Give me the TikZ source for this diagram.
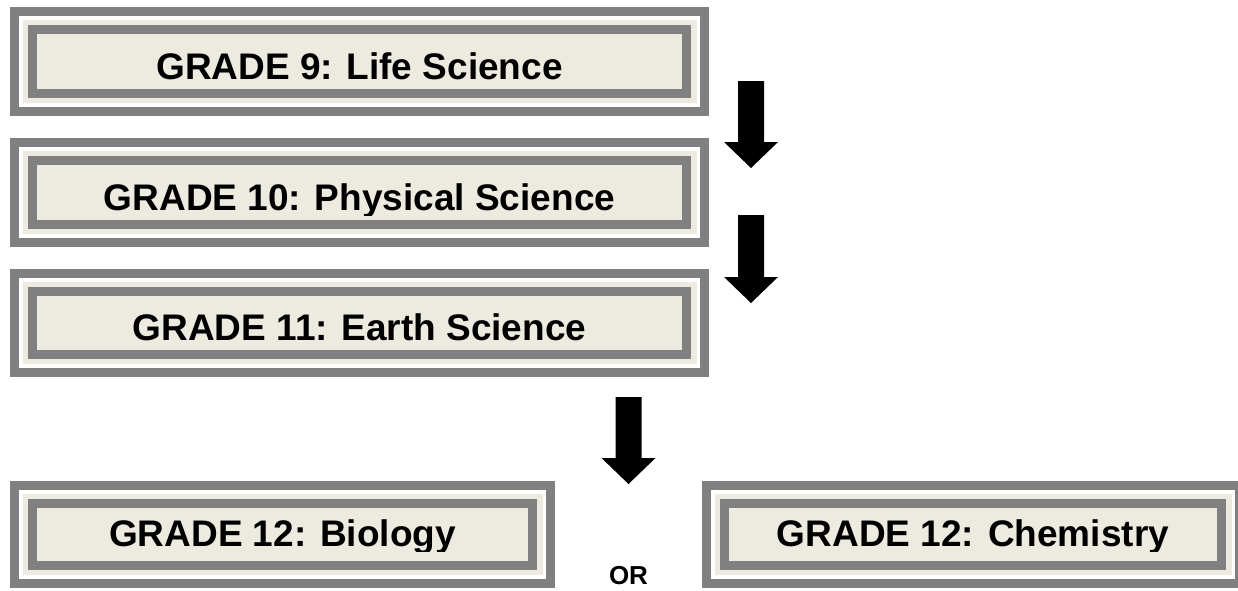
\documentclass[tikz,border=0pt]{standalone}
\usepackage{fontspec}
\setmainfont{Liberation Sans}
\definecolor{boxgray}{HTML}{808080}
\definecolor{boxbeige}{HTML}{EDEBE0}
\tikzset{
  boxtext/.style={font=\fontsize{37}{40}\selectfont\bfseries, inner sep=0pt},
  ortext/.style={font=\fontsize{26}{29}\selectfont\bfseries, inner sep=0pt},
  bigarrow/.style={fill=black}
}
\newcommand\gradebox[7]{%
  \fill[boxgray] (#2,#3) rectangle (#4,#5);
  \fill[white] (#2+9,#3+9) rectangle (#4-9,#5-9);
  \fill[boxbeige] (#2+12.5,#3+13) rectangle (#4-12.5,#5-13);
  \fill[boxgray] (#2+18,#3+18) rectangle (#4-18,#5-18);
  \fill[boxbeige] (#2+27,#3+27) rectangle (#4-27,#5-27);
  \begin{scope}
    \clip (#2+27,#3+27) rectangle (#4-27,#6+5);
    \node[boxtext, anchor=base] (#1) at ({(#2+#4)/2},#6) {#7};
  \end{scope}}
\newcommand\blockarrowdown[4]{% name, center x, top y, tip y
  \fill[bigarrow] (#2-13,#3) -- (#2+13,#3) -- (#2+13,#4-26) -- (#2+27,#4-26)
    -- (#2,#4) -- (#2-27,#4-26) -- (#2-13,#4-26) -- cycle;
  \coordinate (#1) at (#2,#4);}
\begin{document}
\begin{tikzpicture}[x=1pt,y=-1pt]
\useasboundingbox (0,0) rectangle (1238,590);
\begin{scope}
\clip (0,0) rectangle (1238,590);
\gradebox{g9}{10}{7}{709}{116}{79}{GRADE 9: Life Science}
\gradebox{g10}{10}{138}{709}{247}{210}{GRADE 10: Physical Science}
\gradebox{g11}{10}{269}{709}{377}{340}{GRADE 11: Earth Science}
\gradebox{g12b}{10}{481}{555}{588}{546}{GRADE 12: Biology}
\gradebox{g12c}{702}{481}{1244}{588}{546}{GRADE 12: Chemistry}
\blockarrowdown{a1}{751}{81}{168}
\blockarrowdown{a2}{751}{215}{303}
\blockarrowdown{a3}{628.5}{397}{484}
\node[ortext, anchor=base] (or) at (628.5,584) {OR};
\end{scope}
\end{tikzpicture}
\end{document}
